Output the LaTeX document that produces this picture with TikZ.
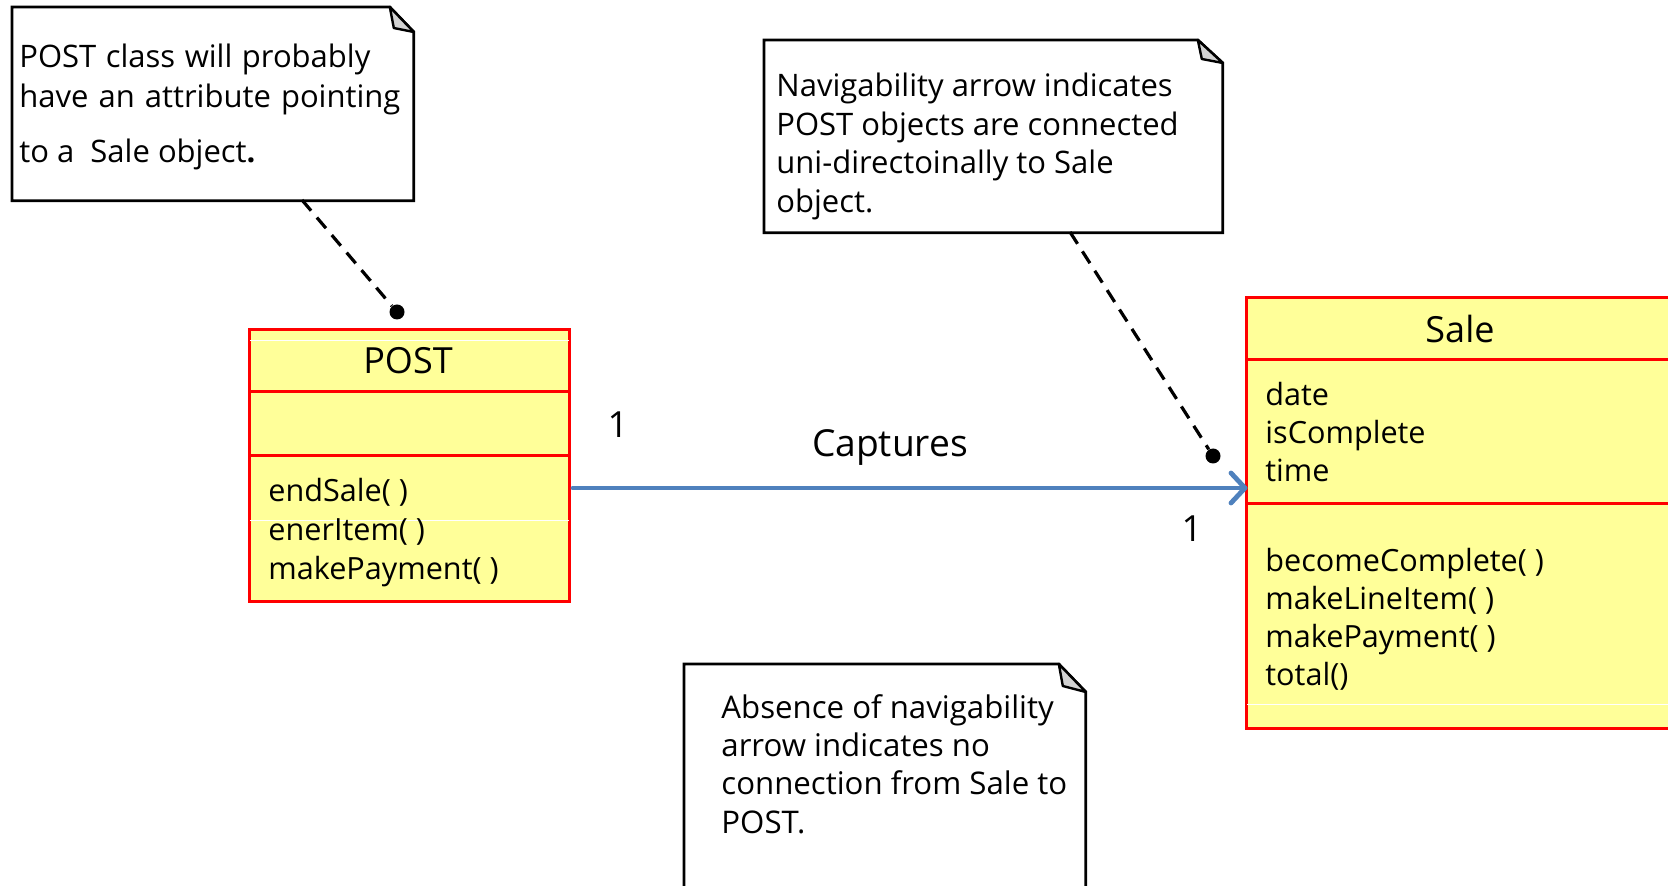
\documentclass[tikz,border=0pt]{standalone}
\usepackage{fontspec}
\setmainfont{Open Sans}
\usetikzlibrary{calc}
\definecolor{clsfill}{RGB}{255,255,153}
\definecolor{clsline}{RGB}{255,0,0}
\definecolor{assoc}{RGB}{79,129,189}
\definecolor{foldgray}{RGB}{210,210,210}
\tikzset{
  classbox/.style={draw=clsline, fill=clsfill, line width=1.5pt, anchor=north west, inner sep=0pt},
  divider/.style={draw=clsline, line width=1.5pt},
  artifact/.style={draw=white, line width=0.4pt},
  notebox/.style={draw=none, anchor=north west, inner sep=0pt},
  noteline/.style={draw=black, line width=1.4pt, fill=white, line join=miter},
  foldtri/.style={draw=black, line width=1.2pt, fill=foldgray, line join=round},
  notetxt/.style={anchor=base west, inner sep=0pt, font=\fontsize{15.5}{18}\selectfont},
  notetxtsm/.style={anchor=base west, inner sep=0pt, font=\fontsize{15.6}{18}\selectfont},
  clsname/.style={anchor=base, inner sep=0pt, font=\fontsize{18}{21}\selectfont},
  member/.style={anchor=base west, inner sep=0pt, font=\fontsize{15.3}{18}\selectfont},
  mult/.style={anchor=base, inner sep=0pt, font=\fontsize{18}{21}\selectfont},
  anchorlink/.style={draw=black, line width=1.6pt, dash pattern=on 7pt off 4.5pt},
  anchordot/.style={circle, fill=black, inner sep=0pt, minimum size=7.5pt},
  navarrow/.style={draw=assoc, line width=2.4pt, line cap=round},
}
\begin{document}
\begin{tikzpicture}[x=0.5pt,y=-0.5pt]
\useasboundingbox (0,0) rectangle (1668,886);
\clip (0,0) rectangle (1668,886);
\fill[white] (0,0) rectangle (1668,886);

% ---------- note 1
\node[notebox, minimum width=200.5pt, minimum height=96.5pt] (n1) at (12,7) {};
\draw[noteline] (n1.north west) -- ($(n1.north east)+(-24,0)$) -- ($(n1.north east)+(0,25)$) -- (n1.south east) -- (n1.south west) -- cycle;
\draw[foldtri] ($(n1.north east)+(-24,0)$) -- ($(n1.north east)+(-20,21)$) -- ($(n1.north east)+(0,25)$) -- cycle;
\node[notetxt] (n1a) at (19,68) {\makebox[175.5pt][s]{POST class will probably}};
\node[notetxt] (n1b) at (19,108) {\makebox[190.5pt][s]{have an attribute pointing}};
\node[notetxt] (n1c) at (19,163) {to a\ \ Sale object\textbf{.}};

% ---------- note 2
\node[notebox, minimum width=229pt, minimum height=96pt] (n2) at (764,40) {};
\draw[noteline] (n2.north west) -- ($(n2.north east)+(-25,0)$) -- ($(n2.north east)+(0,23)$) -- (n2.south east) -- (n2.south west) -- cycle;
\draw[foldtri] ($(n2.north east)+(-25,0)$) -- ($(n2.north east)+(-21,19)$) -- ($(n2.north east)+(0,23)$) -- cycle;
\node[notetxt] (n2a) at (776,97) {Navigability arrow indicates};
\node[notetxt] (n2b) at (776,136) {POST objects are connected};
\node[notetxt] (n2c) at (776,174) {uni-directoinally to Sale};
\node[notetxt] (n2d) at (776,213) {object.};

% ---------- note 3
\node[notebox, minimum width=200.5pt, minimum height=150pt] (n3) at (684,664) {};
\draw[noteline] (n3.north west) -- ($(n3.north east)+(-27,0)$) -- ($(n3.north east)+(0,28)$) -- (n3.south east) -- (n3.south west) -- cycle;
\draw[foldtri] ($(n3.north east)+(-27,0)$) -- ($(n3.north east)+(-23,22)$) -- ($(n3.north east)+(0,28)$) -- cycle;
\node[notetxtsm] (n3a) at (721,718) {Absence of navigability};
\node[notetxtsm] (n3b) at (721,756) {arrow indicates no};
\node[notetxtsm] (n3c) at (721,794) {connection from Sale to};
\node[notetxtsm] (n3d) at (721,833) {POST.};

% ---------- POST class
\node[classbox, minimum width=160pt, minimum height=136pt] (post) at (248,328) {};
\draw[artifact] ($(post.north west)+(2,12)$) -- ($(post.north east)+(-2,12)$);
\draw[artifact] ($(post.north west)+(2,192)$) -- ($(post.north east)+(-2,192)$);
\draw[divider] ($(post.north west)+(0,64)$) -- ($(post.north east)+(0,64)$);
\draw[divider] ($(post.north west)+(0,128)$) -- ($(post.north east)+(0,128)$);
\node[clsname] (postname) at (408,374) {POST};
\node[member] (pm1) at (268,502) {endSale(\ )};
\node[member] (pm2) at (268,540) {enerItem(\ )};
\node[member] (pm3) at (268,579) {makePayment(\ )};

% ---------- Sale class
\node[classbox, minimum width=217.5pt, minimum height=215.5pt] (sale) at (1245,296) {};
\draw[artifact] ($(sale.south west)+(2,-26)$) -- ($(sale.south east)+(-2,-26)$);
\draw[divider] ($(sale.north west)+(0,64)$) -- ($(sale.north east)+(0,64)$);
\draw[divider] ($(sale.north west)+(0,208)$) -- ($(sale.north east)+(0,208)$);
\node[clsname] (salename) at (1460,343) {Sale};
\node[member] (sa1) at (1265,406) {date};
\node[member] (sa2) at (1265,444) {isComplete};
\node[member] (sa3) at (1265,482) {time};
\node[member] (sm1) at (1265,571) {becomeComplete(\ )};
\node[member] (sm2) at (1265,609) {makeLineItem(\ )};
\node[member] (sm3) at (1265,647) {makePayment(\ )};
\node[member] (sm4) at (1265,685) {total()};

% ---------- association
\coordinate (astart) at (573,488);
\coordinate (aend) at (1245,488);
\draw[navarrow] (astart) -- (aend);
\draw[navarrow, line join=round] ($(aend)+(-14,-15)$) -- (aend) -- ($(aend)+(-14,15)$);
\node[mult] (m1) at (618,438) {1};
\node[mult] (m2) at (1192,542) {1};
\node[clsname, font=\fontsize{18.6}{22}\selectfont] (cap) at (890,457) {Captures};

% ---------- note anchors
\node[anchordot] (d1) at (397,312) {};
\node[anchordot] (d2) at (1213,456) {};
\coordinate (t1) at (302,200);
\coordinate (t2) at (1070,232);
\draw[anchorlink] (t1) -- (d1);
\draw[anchorlink] (t2) -- (d2);
\end{tikzpicture}
\end{document}
